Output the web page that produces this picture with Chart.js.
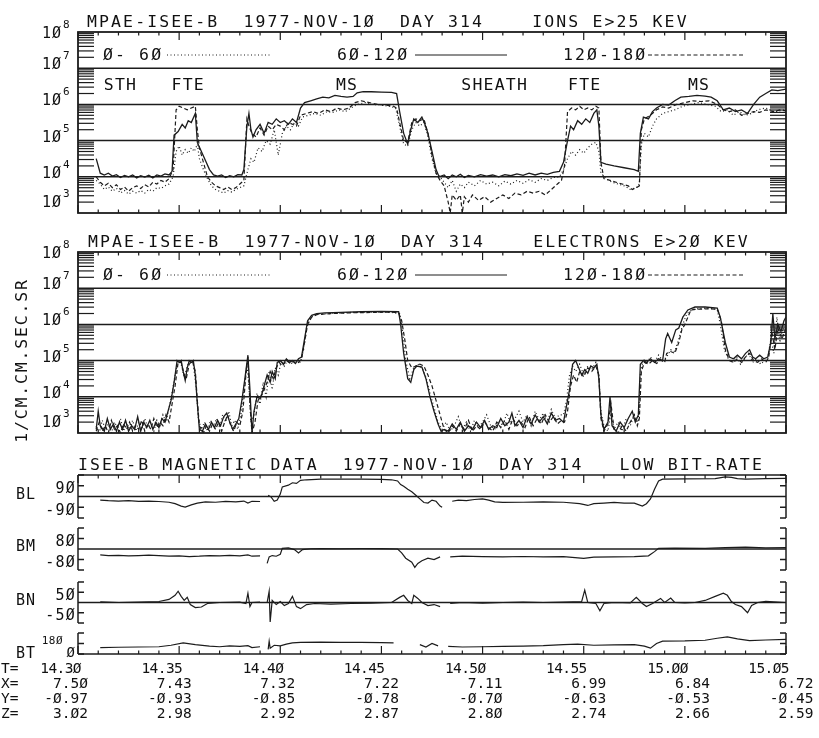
<!DOCTYPE html>
<html>
<head>
<meta charset="utf-8">
<script src="https://cdn.jsdelivr.net/npm/chart.js@4.4.1/dist/chart.umd.min.js"></script>
<style>
  body { margin: 0; background: #fff; }
  #page { position: relative; width: 819px; height: 738px; }
  #page canvas { position: absolute; left: 0; top: 0; }
</style>
</head>
<body>
<div id="page">
  <canvas id="ions" width="819" height="738"></canvas>
  <canvas id="electrons" width="819" height="738"></canvas>
  <canvas id="bl" width="819" height="738"></canvas>
  <canvas id="bm" width="819" height="738"></canvas>
  <canvas id="bn" width="819" height="738"></canvas>
  <canvas id="bt" width="819" height="738"></canvas>
</div>
<script>
// time is minutes after 14:30 UT, particle values are log10(flux)
const angleBins = ["0- 60", "60-120", "120-180"];
const decades = [3, 4, 5, 6, 7, 8];
const majorTimes = [0, 5, 10, 15, 20, 25, 30, 35];
const timeLabels = ["14.30", "14.35", "14.40", "14.45", "14.50", "14.55", "15.00", "15.05"];
const ephX = [7.50, 7.43, 7.32, 7.22, 7.11, 6.99, 6.84, 6.72];
const ephY = [-0.97, -0.93, -0.85, -0.78, -0.70, -0.63, -0.53, -0.45];
const ephZ = [3.02, 2.98, 2.92, 2.87, 2.80, 2.74, 2.66, 2.59];
const regionNames = ["STH", "FTE", "MS", "SHEATH", "FTE", "MS"];
const regionTimes = [2.1, 5.45, 13.3, 20.6, 25.05, 30.7];

const ionsLow = [[0.9,3.9],[1.1,3.8],[1.3,3.65],[1.5,3.72],[1.7,3.6],[1.9,3.68],[2.1,3.55],[2.3,3.62],[2.5,3.52],[2.7,3.6],[2.9,3.55],[3.1,3.62],[3.3,3.55],[3.5,3.65],[3.7,3.6],[3.9,3.7],[4.1,3.68],[4.3,3.75],[4.5,3.8],[4.7,4.0],[4.85,4.7],[5.0,4.85],[5.15,4.6],[5.3,4.75],[5.45,4.65],[5.6,4.8],[5.75,4.7],[5.9,4.9],[6.0,4.5],[6.2,4.2],[6.4,3.95],[6.6,3.75],[6.8,3.65],[7.0,3.6],[7.2,3.55],[7.4,3.62],[7.6,3.58],[7.8,3.65],[8.0,3.7],[8.2,3.75],[8.4,4.2],[8.55,4.5],[8.7,4.4],[8.9,4.8],[9.1,4.7],[9.3,5.0],[9.5,4.9],[9.7,5.3],[9.9,4.6],[10.1,5.2],[10.3,5.4],[10.5,5.3],[10.7,5.5],[10.9,5.4],[11.1,5.65],[11.4,5.7],[11.7,5.75],[12.0,5.7],[12.3,5.8],[12.6,5.78],[12.9,5.85],[13.2,5.8],[13.5,5.9],[13.8,6.0],[14.2,6.05],[14.6,6.0],[15.0,5.98],[15.4,5.95],[15.7,5.9],[15.9,5.4],[16.1,4.9],[16.3,4.85],[16.5,5.3],[16.7,5.5],[16.9,5.4],[17.1,5.5],[17.3,5.1],[17.5,4.5],[17.7,4.1],[17.9,4.0],[18.1,3.85],[18.3,3.7],[18.5,3.9],[18.7,3.6],[18.9,3.8],[19.1,3.7],[19.3,3.85],[19.6,3.75],[19.9,3.9],[20.2,3.8],[20.5,3.85],[20.8,3.75],[21.1,3.88],[21.4,3.8],[21.7,3.9],[22.0,3.82],[22.3,3.92],[22.6,3.85],[22.9,3.95],[23.2,3.9],[23.5,3.98],[23.8,4.0],[24.0,4.2],[24.2,4.5],[24.4,4.7],[24.6,4.6],[24.8,4.75],[25.0,4.65],[25.2,4.8],[25.4,4.9],[25.6,4.95],[25.75,4.7],[25.85,4.1],[26.1,3.95],[26.4,3.85],[26.7,3.8],[27.0,3.75],[27.3,3.65],[27.6,3.7],[27.75,3.8],[27.85,4.9],[28.0,5.2],[28.2,5.1],[28.4,5.4],[28.6,5.6],[28.9,5.75],[29.2,5.8],[29.5,5.85],[29.9,5.95],[30.3,6.0],[30.7,6.05],[31.1,6.0],[31.5,5.95],[31.8,5.8],[32.1,5.85],[32.4,5.7],[32.7,5.8],[33.0,5.7],[33.3,5.75],[33.6,5.85],[34.0,5.9],[34.4,5.8],[35.0,5.85]];

const ionsMid = [[0.9,4.5],[1.1,4.1],[1.3,4.05],[1.5,4.1],[1.7,4.02],[1.9,4.06],[2.1,3.98],[2.3,4.04],[2.5,4.0],[2.7,4.05],[2.9,3.97],[3.1,4.03],[3.3,3.99],[3.5,4.04],[3.7,3.97],[3.9,4.05],[4.1,4.02],[4.3,4.08],[4.5,4.05],[4.65,4.15],[4.75,5.15],[4.95,5.25],[5.15,5.45],[5.3,5.35],[5.45,5.55],[5.6,5.5],[5.8,5.75],[5.9,4.95],[6.1,4.7],[6.3,4.45],[6.5,4.2],[6.7,4.05],[6.9,4.02],[7.1,4.05],[7.3,3.98],[7.5,4.03],[7.7,4.0],[7.9,4.06],[8.1,4.05],[8.2,4.2],[8.35,5.4],[8.45,5.75],[8.55,5.3],[8.65,5.1],[8.8,5.3],[9.0,5.45],[9.2,5.2],[9.4,5.5],[9.6,5.45],[9.8,5.6],[10.0,5.5],[10.2,5.55],[10.4,5.45],[10.6,5.6],[10.8,5.5],[11.0,5.9],[11.2,6.05],[11.5,6.1],[11.8,6.15],[12.1,6.2],[12.4,6.18],[12.7,6.25],[13.0,6.22],[13.3,6.2],[13.6,6.22],[13.8,6.32],[14.1,6.35],[14.5,6.35],[15.0,6.34],[15.5,6.33],[15.75,6.3],[15.9,5.8],[16.1,5.2],[16.3,4.9],[16.45,5.3],[16.6,5.6],[16.8,5.5],[17.0,5.65],[17.15,5.45],[17.3,5.2],[17.5,4.7],[17.7,4.2],[17.85,4.0],[18.1,4.05],[18.3,3.95],[18.5,4.05],[18.7,4.0],[18.9,4.07],[19.1,3.98],[19.3,4.04],[19.6,4.0],[19.9,4.06],[20.2,4.02],[20.5,4.05],[20.8,4.0],[21.1,4.06],[21.4,4.03],[21.7,4.08],[22.0,4.04],[22.3,4.1],[22.6,4.05],[22.9,4.1],[23.2,4.07],[23.5,4.12],[23.8,4.15],[24.0,4.4],[24.2,5.0],[24.35,5.4],[24.5,5.3],[24.7,5.55],[24.9,5.45],[25.1,5.6],[25.3,5.5],[25.5,5.75],[25.65,5.85],[25.75,5.4],[25.85,4.4],[26.1,4.35],[26.5,4.3],[27.0,4.25],[27.5,4.2],[27.7,4.15],[27.8,5.2],[27.95,5.65],[28.2,5.6],[28.4,5.8],[28.6,5.9],[28.9,6.0],[29.2,5.98],[29.5,6.1],[29.8,6.2],[30.2,6.22],[30.6,6.25],[31.0,6.23],[31.3,6.2],[31.6,6.1],[31.9,5.85],[32.2,5.9],[32.5,5.8],[32.8,5.85],[33.1,5.75],[33.4,6.0],[33.7,6.2],[34.0,6.3],[34.3,6.4],[34.6,6.38],[35.0,6.42]];

const ionsHigh = [[0.9,4.0],[1.1,3.85],[1.3,3.75],[1.5,3.82],[1.7,3.7],[1.9,3.78],[2.1,3.65],[2.3,3.72],[2.5,3.6],[2.7,3.7],[2.9,3.75],[3.1,3.68],[3.3,3.78],[3.5,3.72],[3.7,3.85],[3.9,3.8],[4.1,3.9],[4.3,3.85],[4.5,3.95],[4.7,4.2],[4.85,5.85],[5.0,5.95],[5.2,5.9],[5.4,5.85],[5.6,5.9],[5.8,5.95],[5.9,5.3],[6.0,4.8],[6.2,4.4],[6.4,4.0],[6.6,3.85],[6.8,3.75],[7.0,3.7],[7.2,3.65],[7.4,3.72],[7.6,3.65],[7.8,3.7],[8.0,3.8],[8.2,3.9],[8.35,5.6],[8.45,5.4],[8.6,5.2],[8.8,5.1],[9.0,5.35],[9.2,5.15],[9.4,5.4],[9.6,5.3],[9.8,5.45],[10.0,5.4],[10.2,5.3],[10.4,5.5],[10.6,5.45],[10.8,5.4],[11.0,5.7],[11.3,5.75],[11.6,5.8],[11.9,5.75],[12.2,5.85],[12.5,5.8],[12.8,5.9],[13.1,5.85],[13.4,5.9],[13.7,6.05],[14.0,6.1],[14.4,6.05],[14.8,6.0],[15.2,5.98],[15.6,5.95],[15.75,5.9],[15.9,5.5],[16.1,5.0],[16.3,4.95],[16.5,5.5],[16.7,5.6],[16.9,5.55],[17.1,5.6],[17.3,5.2],[17.5,4.6],[17.7,4.1],[17.9,3.9],[18.1,3.75],[18.3,3.3],[18.4,3.0],[18.5,3.5],[18.7,3.35],[18.9,3.5],[19.0,3.0],[19.1,3.45],[19.3,3.3],[19.5,3.5],[19.8,3.35],[20.1,3.45],[20.4,3.3],[20.7,3.4],[21.0,3.5],[21.3,3.4],[21.6,3.55],[21.9,3.5],[22.2,3.6],[22.5,3.55],[22.8,3.6],[23.1,3.5],[23.4,3.65],[23.7,3.8],[23.9,3.9],[24.05,4.3],[24.2,5.8],[24.4,5.9],[24.6,5.85],[24.8,5.95],[25.0,5.85],[25.2,5.9],[25.4,5.85],[25.6,5.95],[25.75,5.9],[25.85,4.4],[26.0,3.95],[26.3,3.9],[26.6,3.85],[26.9,3.8],[27.2,3.75],[27.4,3.65],[27.6,3.7],[27.75,3.75],[27.85,5.3],[28.0,5.6],[28.3,5.7],[28.6,5.85],[28.9,5.93],[29.2,5.9],[29.6,6.0],[30.0,6.05],[30.4,6.1],[30.8,6.08],[31.2,6.1],[31.6,6.0],[31.9,5.85],[32.2,5.8],[32.5,5.85],[32.8,5.7],[33.1,5.75],[33.4,5.8],[33.7,5.78],[34.0,5.85],[34.4,5.8],[34.7,5.85],[35.0,5.82]];

const elecLow = [[0.9,3.2],[1.05,3.0],[1.2,3.35],[1.35,3.1],[1.5,3.25],[1.65,3.0],[1.8,3.3],[1.95,3.15],[2.1,3.4],[2.25,3.05],[2.4,3.25],[2.55,3.1],[2.7,3.35],[2.85,3.05],[3.0,3.3],[3.15,3.1],[3.3,3.4],[3.45,3.15],[3.6,3.3],[3.75,3.05],[3.9,3.35],[4.05,3.2],[4.2,3.5],[4.35,3.3],[4.5,3.7],[4.65,4.1],[4.8,4.6],[4.95,5.0],[5.1,4.9],[5.25,4.55],[5.4,4.85],[5.55,5.0],[5.7,4.9],[5.85,4.2],[5.95,3.4],[6.1,3.1],[6.25,3.3],[6.4,3.05],[6.55,3.35],[6.7,3.2],[6.85,3.4],[7.0,3.15],[7.15,3.5],[7.3,3.3],[7.45,3.6],[7.6,3.2],[7.75,3.35],[7.9,3.1],[8.05,3.5],[8.2,4.2],[8.35,4.9],[8.45,4.3],[8.55,3.3],[8.7,3.5],[8.85,4.1],[9.0,3.8],[9.15,4.4],[9.3,4.0],[9.45,4.7],[9.6,4.2],[9.75,4.8],[9.9,4.6],[10.05,5.0],[10.2,4.85],[10.4,5.05],[10.6,4.9],[10.8,5.0],[11.0,4.95],[11.15,5.3],[11.3,5.9],[11.5,6.2],[11.8,6.28],[12.5,6.3],[13.5,6.33],[14.5,6.34],[15.5,6.33],[15.9,6.3],[16.05,5.8],[16.2,5.0],[16.4,4.5],[16.6,4.8],[16.8,4.9],[17.0,4.8],[17.2,4.55],[17.4,4.1],[17.6,3.7],[17.8,3.3],[18.0,3.1],[18.2,3.3],[18.4,3.05],[18.6,3.2],[18.8,3.45],[19.0,3.1],[19.2,3.3],[19.4,3.05],[19.6,3.35],[19.8,3.15],[20.0,3.3],[20.2,3.5],[20.4,3.2],[20.6,3.1],[20.8,3.35],[21.0,3.2],[21.2,3.55],[21.4,3.25],[21.6,3.4],[21.8,3.6],[22.0,3.3],[22.2,3.5],[22.4,3.2],[22.6,3.6],[22.8,3.35],[23.0,3.55],[23.2,3.3],[23.4,3.65],[23.6,3.4],[23.8,3.5],[24.0,3.5],[24.15,3.9],[24.3,4.6],[24.45,4.85],[24.6,4.7],[24.8,4.9],[25.0,4.6],[25.2,4.85],[25.4,4.75],[25.6,4.95],[25.75,4.6],[25.85,3.6],[26.0,3.2],[26.2,3.05],[26.35,3.6],[26.5,3.1],[26.7,3.3],[26.9,3.05],[27.1,3.4],[27.3,3.2],[27.5,3.5],[27.7,3.3],[27.8,4.6],[27.95,5.05],[28.1,4.9],[28.3,5.1],[28.5,4.95],[28.7,5.15],[28.9,5.0],[29.1,5.1],[29.3,5.3],[29.5,5.25],[29.7,5.6],[29.9,6.0],[30.1,6.3],[30.4,6.42],[31.0,6.45],[31.6,6.42],[31.75,6.0],[31.95,5.3],[32.15,5.05],[32.35,4.95],[32.55,5.1],[32.75,4.9],[32.95,5.05],[33.15,5.2],[33.35,4.95],[33.55,5.05],[33.75,4.9],[33.95,5.0],[34.1,5.05],[34.25,5.6],[34.4,5.2],[34.55,6.2],[34.7,5.5],[34.85,5.9],[35.0,5.7]];

const elecMid = [[0.9,3.1],[1.0,3.6],[1.1,3.2],[1.3,3.05],[1.45,3.4],[1.6,3.1],[1.75,3.25],[1.9,3.05],[2.05,3.3],[2.2,3.1],[2.35,3.35],[2.5,3.05],[2.65,3.2],[2.8,3.1],[2.95,3.45],[3.1,3.05],[3.25,3.3],[3.4,3.15],[3.55,3.35],[3.7,3.1],[3.85,3.3],[4.0,3.15],[4.15,3.4],[4.3,3.3],[4.45,3.6],[4.6,3.9],[4.75,4.4],[4.9,5.0],[5.0,4.95],[5.1,5.0],[5.2,4.7],[5.3,4.45],[5.4,4.8],[5.5,5.0],[5.6,4.95],[5.7,5.0],[5.8,4.6],[5.9,3.8],[6.0,3.1],[6.15,3.05],[6.3,3.25],[6.45,3.1],[6.6,3.3],[6.75,3.15],[6.9,3.35],[7.05,3.2],[7.2,3.45],[7.35,3.55],[7.5,3.3],[7.65,3.1],[7.8,3.25],[7.95,3.4],[8.1,3.9],[8.25,4.5],[8.4,5.15],[8.5,4.2],[8.6,3.0],[8.7,3.6],[8.85,4.0],[9.0,3.95],[9.1,4.1],[9.2,4.3],[9.35,4.6],[9.5,4.4],[9.6,4.7],[9.75,4.5],[9.85,4.95],[10.0,5.0],[10.15,4.9],[10.3,5.05],[10.45,4.95],[10.6,5.0],[10.75,4.92],[10.9,5.05],[11.05,5.1],[11.2,5.6],[11.35,6.1],[11.55,6.25],[11.8,6.3],[12.2,6.32],[13.0,6.33],[14.0,6.35],[15.0,6.36],[15.85,6.35],[15.95,6.0],[16.1,5.2],[16.3,4.5],[16.45,4.4],[16.6,4.75],[16.75,4.85],[17.0,4.82],[17.2,4.5],[17.4,4.0],[17.6,3.6],[17.8,3.25],[17.95,3.05],[18.1,3.1],[18.3,3.05],[18.5,3.25],[18.7,3.1],[18.9,3.3],[19.1,3.05],[19.3,3.2],[19.5,3.1],[19.7,3.3],[19.9,3.15],[20.1,3.35],[20.3,3.1],[20.5,3.2],[20.7,3.15],[20.9,3.4],[21.1,3.2],[21.3,3.3],[21.45,3.55],[21.6,3.2],[21.8,3.35],[22.0,3.15],[22.2,3.45],[22.4,3.25],[22.6,3.5],[22.8,3.3],[23.0,3.45],[23.2,3.25],[23.4,3.55],[23.6,3.35],[23.8,3.4],[24.0,3.3],[24.1,3.6],[24.3,4.2],[24.45,4.9],[24.6,5.0],[24.75,4.8],[24.9,4.6],[25.05,4.75],[25.2,4.65],[25.35,4.85],[25.5,4.8],[25.65,4.9],[25.75,4.5],[25.85,3.5],[26.0,3.1],[26.2,3.3],[26.3,4.0],[26.4,3.2],[26.6,3.05],[26.8,3.3],[27.0,3.15],[27.2,3.4],[27.4,3.6],[27.55,3.3],[27.7,3.5],[27.8,4.9],[27.95,5.0],[28.1,4.95],[28.3,5.05],[28.5,4.95],[28.7,5.05],[28.9,5.0],[29.05,5.6],[29.15,5.75],[29.35,5.5],[29.55,5.85],[29.7,5.9],[29.9,6.2],[30.15,6.4],[30.5,6.48],[31.0,6.48],[31.6,6.45],[31.75,6.2],[32.0,5.5],[32.2,5.1],[32.4,5.05],[32.6,5.15],[32.8,5.05],[33.0,5.2],[33.2,5.3],[33.35,5.1],[33.5,5.05],[33.7,5.15],[33.9,5.05],[34.1,5.1],[34.25,5.5],[34.35,6.3],[34.45,5.6],[34.6,6.0],[34.75,5.8],[34.9,6.1],[35.0,6.2]];

const elecHigh = [[0.9,3.05],[1.05,3.3],[1.2,3.05],[1.35,3.2],[1.5,3.0],[1.65,3.35],[1.8,3.1],[1.95,3.2],[2.1,3.0],[2.25,3.25],[2.4,3.1],[2.55,3.3],[2.7,3.05],[2.85,3.2],[3.0,3.1],[3.15,3.35],[3.3,3.05],[3.45,3.25],[3.6,3.1],[3.75,3.4],[3.9,3.15],[4.05,3.3],[4.2,3.2],[4.35,3.5],[4.5,3.3],[4.65,3.8],[4.8,4.3],[4.95,4.95],[5.1,4.95],[5.25,4.6],[5.35,4.5],[5.5,4.9],[5.65,5.0],[5.8,4.7],[5.9,3.9],[6.0,3.2],[6.2,3.0],[6.35,3.2],[6.5,3.05],[6.65,3.25],[6.8,3.1],[6.95,3.3],[7.1,3.05],[7.25,3.3],[7.4,3.5],[7.55,3.2],[7.7,3.05],[7.85,3.3],[8.0,3.2],[8.15,3.6],[8.3,4.6],[8.4,5.1],[8.5,3.8],[8.6,3.0],[8.75,3.3],[8.9,3.9],[9.05,4.0],[9.2,4.2],[9.35,4.4],[9.5,4.7],[9.65,4.5],[9.8,4.8],[9.95,4.95],[10.1,4.85],[10.3,5.0],[10.5,4.92],[10.7,5.0],[10.9,4.95],[11.05,5.05],[11.2,5.5],[11.35,6.0],[11.55,6.2],[11.8,6.27],[12.5,6.3],[13.5,6.32],[14.5,6.33],[15.5,6.34],[15.85,6.32],[16.0,6.1],[16.15,5.6],[16.3,5.0],[16.5,4.8],[16.7,4.85],[16.9,4.9],[17.1,4.85],[17.3,4.6],[17.5,4.3],[17.7,3.9],[17.9,3.5],[18.1,3.1],[18.3,3.0],[18.5,3.2],[18.7,3.05],[18.9,3.25],[19.1,3.1],[19.3,3.35],[19.5,3.05],[19.7,3.2],[19.9,3.1],[20.1,3.3],[20.3,3.15],[20.5,3.05],[20.7,3.3],[20.9,3.15],[21.1,3.35],[21.3,3.1],[21.5,3.4],[21.7,3.2],[21.9,3.3],[22.1,3.15],[22.3,3.45],[22.5,3.2],[22.7,3.4],[22.9,3.25],[23.1,3.5],[23.3,3.3],[23.5,3.45],[23.7,3.25],[23.9,3.35],[24.05,3.3],[24.2,3.6],[24.35,4.3],[24.5,4.6],[24.65,4.4],[24.8,4.7],[25.0,4.55],[25.2,4.8],[25.4,4.7],[25.6,4.85],[25.75,4.6],[25.85,3.4],[26.0,3.05],[26.2,3.25],[26.35,3.8],[26.5,3.1],[26.7,3.0],[26.9,3.2],[27.1,3.05],[27.3,3.3],[27.5,3.5],[27.65,3.2],[27.75,3.4],[27.85,4.7],[28.0,4.95],[28.2,4.9],[28.4,5.0],[28.6,4.92],[28.8,5.02],[29.0,4.95],[29.1,5.2],[29.3,5.25],[29.5,5.2],[29.7,5.5],[29.85,5.85],[30.0,6.0],[30.3,6.4],[30.6,6.42],[31.2,6.43],[31.6,6.42],[31.8,6.1],[32.0,5.3],[32.2,5.0],[32.4,4.95],[32.6,5.05],[32.8,4.95],[33.0,5.1],[33.2,5.2],[33.4,5.0],[33.6,4.95],[33.8,5.05],[34.0,4.95],[34.15,5.1],[34.3,5.8],[34.45,5.3],[34.6,5.9],[34.8,5.6],[35.0,5.9]];

// magnetic field components, nT (null = data gap)
const bL = [[1.1,-30],[1.5,-35],[2.0,-38],[2.5,-35],[3.0,-40],[3.5,-38],[4.0,-42],[4.5,-48],[4.8,-60],[5.1,-80],[5.3,-88],[5.6,-70],[5.9,-55],[6.3,-45],[6.8,-48],[7.3,-40],[7.8,-45],[8.2,-38],[8.4,-55],[8.6,-40],[9.0,-42],[9.2,null],[9.4,10],[9.55,-5],[9.7,-40],[9.85,-30],[10.0,20],[10.1,80],[10.4,95],[10.6,115],[10.8,110],[11.0,135],[11.3,140],[12,145],[13,146],[14,145],[15,143],[15.5,140],[15.8,130],[15.95,100],[16.1,85],[16.3,60],[16.5,40],[16.7,10],[16.9,-20],[17.1,-50],[17.3,-55],[17.5,-30],[17.7,-40],[17.9,-80],[18.0,-90],[18.1,null],[18.5,-40],[18.8,-30],[19.2,-35],[19.6,-25],[20.0,-20],[20.3,-30],[20.6,-45],[21.0,-50],[22,-48],[23,-45],[24,-48],[24.8,-60],[25.2,-75],[25.5,-60],[26,-55],[26.5,-50],[27,-55],[27.5,-55],[27.9,-80],[28.1,-60],[28.3,-20],[28.5,60],[28.7,130],[28.9,145],[30,148],[31.5,150],[32.0,165],[32.3,160],[32.6,150],[33.0,145],[34,150],[35,152]];
const bM = [[1.1,-45],[1.5,-50],[2,-48],[2.5,-52],[3,-50],[3.5,-47],[4,-50],[4.5,-55],[5,-52],[5.5,-58],[6,-55],[6.5,-50],[7,-52],[7.5,-48],[8,-52],[8.4,-45],[8.6,-55],[9.0,-52],[9.2,null],[9.35,-110],[9.45,-60],[9.6,-50],[9.8,-55],[10.0,-40],[10.1,5],[10.4,8],[10.7,-5],[10.9,-30],[11.1,-5],[11.5,2],[12,3],[13,2],[14,4],[15,3],[15.8,0],[16.0,-30],[16.2,-70],[16.5,-100],[16.65,-140],[16.8,-110],[17.0,-90],[17.3,-70],[17.6,-80],[17.9,-60],[18.1,null],[18.4,-60],[19,-55],[20,-58],[21,-60],[22,-57],[23,-60],[24,-58],[25,-72],[25.5,-62],[26.5,-60],[27.5,-58],[28.2,-52],[28.5,-20],[28.7,5],[29.5,7],[31,5],[32,10],[33,15],[34,8],[35,10]];
const bN = [[1.1,3],[2,0],[3,2],[4,5],[4.5,15],[4.8,35],[4.95,55],[5.1,30],[5.25,10],[5.4,25],[5.55,-10],[5.8,-25],[6.1,-22],[6.4,-5],[7,0],[8,2],[8.3,-5],[8.4,45],[8.5,-20],[8.6,0],[9.0,2],[9.2,null],[9.35,0],[9.45,55],[9.5,-95],[9.6,10],[9.8,-10],[10.0,5],[10.2,-15],[10.4,-5],[10.6,30],[10.8,-20],[11.0,-30],[11.3,-10],[11.7,-5],[12.5,-8],[13.5,-5],[14.5,-3],[15.5,0],[15.9,25],[16.1,35],[16.3,10],[16.5,-5],[16.6,35],[16.8,20],[17.0,0],[17.3,-15],[17.6,-10],[17.9,-20],[18.1,null],[18.4,-5],[19,0],[20,-3],[21,0],[22,2],[23,0],[24,2],[24.9,5],[25.05,60],[25.2,0],[25.6,-5],[25.8,-40],[26.0,-5],[26.5,0],[27.3,-2],[27.6,25],[27.9,-5],[28.1,-20],[28.4,-5],[28.8,20],[29.0,0],[29.3,22],[29.5,0],[30.0,-2],[30.5,0],[31.0,10],[31.5,30],[31.9,45],[32.1,35],[32.3,5],[32.5,-10],[32.8,-20],[33.1,-50],[33.3,-15],[33.6,0],[34,5],[35,0]];
const bT = [[1.1,55],[2,58],[3,60],[4,62],[4.6,75],[5.2,95],[5.8,80],[6.5,68],[7,62],[7.5,70],[8,65],[8.4,72],[8.6,55],[9.0,62],[9.2,null],[9.4,40],[9.45,110],[9.5,50],[9.7,75],[10.0,70],[10.3,85],[10.6,95],[11,100],[12,102],[13,100],[14,100],[15,98],[15.6,96],[15.8,null],[16.4,125],[16.6,null],[16.9,80],[17.2,60],[17.5,90],[17.8,70],[18.1,null],[18.3,65],[19,60],[20,62],[21,65],[22,68],[23,72],[24,80],[24.7,85],[25.5,75],[26.5,78],[27.5,80],[28.0,68],[28.3,50],[28.6,90],[28.9,110],[30,112],[31,118],[31.6,135],[32.1,146],[32.6,130],[33.2,115],[34,120],[35,125]];

const ink = "#1c1c1c";
const monoFont = '"DejaVu Sans Mono", "Liberation Mono", monospace';
const slash = (s) => s.replace(/0/g, "\u00d8");
const toLog = (pairs) => pairs.map(([t, e]) => ({ x: t, y: e === null ? null : Math.pow(10, e) }));
const toPts = (pairs) => pairs.map(([t, v]) => ({ x: t, y: v }));

const frame = {
  id: "frame",
  afterDatasetsDraw(chart, args, o) {
    const { ctx, chartArea: a } = chart;
    const xs = chart.scales.x, ys = chart.scales.y;
    const L = a.left, R = a.right, T = a.top, B = a.bottom;
    ctx.save();
    ctx.strokeStyle = ink;
    ctx.fillStyle = "#111";
    ctx.setLineDash([]);

    const seg = (x1, y1, x2, y2, w) => {
      ctx.lineWidth = w;
      ctx.beginPath();
      ctx.moveTo(x1, y1);
      ctx.lineTo(x2, y2);
      ctx.stroke();
    };
    const put = (s, px, py, size, align, sp) => {
      ctx.font = size + "px " + monoFont;
      ctx.textAlign = align || "left";
      ctx.textBaseline = "alphabetic";
      ctx.letterSpacing = (sp || 0) + "px";
      ctx.fillText(s, px, py);
      ctx.letterSpacing = "0px";
    };
    const timeTicks = (py, dir) => {
      for (let m = xs.min; m <= xs.max; m++) {
        const px = xs.getPixelForValue(m);
        seg(px, py, px, py + dir * (m % 5 ? 3.5 : 8), 1.2);
      }
    };

    if (o.log) {
      ctx.lineWidth = 1.8;
      ctx.strokeRect(L, T, R - L, B - T);
      decades.forEach((e) => {
        const py = ys.getPixelForValue(Math.pow(10, e));
        if (e > 3 && e < 8) seg(L, py, R, py, 1.5);
        const base = py + (e === 8 ? 6 : e === 3 ? -6 : 1);
        put(slash("10"), 62, base, 15, "right", 1);
        put(String(e), 63, base - 10, 11, "left");
        if (e < 8) {
          for (let m = 2; m < 10; m++) {
            const pm = ys.getPixelForValue(m * Math.pow(10, e));
            seg(L, pm, L + 16, pm, 1.2);
            seg(R - 16, pm, R, pm, 1.2);
          }
        }
      });
      timeTicks(T, 1);
      timeTicks(B, -1);
    } else {
      seg(L, T, L, B, 1.5);
      seg(R, T, R, B, 1.5);
      [ys.min, ys.max].concat(o.ticks).forEach((v) => {
        const py = ys.getPixelForValue(v);
        seg(L, py, L + 6, py, 1.5);
        seg(R - 6, py, R, py, 1.5);
      });
      const p0 = ys.getPixelForValue(0);
      if (o.zero) seg(L, p0, R, p0, 1.5);
      if (o.topAxis) { seg(L, T, R, T, 1.5); timeTicks(T, 1); }
      if (o.bottomAxis) { seg(L, B, R, B, 1.5); timeTicks(B, -1); }
      put(o.name, 16, o.bottomAxis ? B + 4 : p0 + 2, 15, "left", 1);
      if (o.bottomAxis) {
        put(slash(String(ys.max)), 63, ys.getPixelForValue(ys.max) + 11, 11, "right", 0.5);
        put(slash("0"), 75, B + 3, 14, "right");
      } else {
        o.labels.forEach((v) => {
          put(slash(String(v)), 76, ys.getPixelForValue(v) + 7.5, 15, "right", 1.2);
        });
      }
    }

    if (o.title) put(slash(o.title), o.titleX, T - 5, 16.5, "left", 2.1);

    if (o.legend) {
      const textX = [103, 337, 563], lineX = [[167, 272], [415, 507], [648, 743]];
      chart.data.datasets.forEach((ds, i) => {
        put(slash(ds.label), textX[i], T + 28, 16.5, "left", 2.1);
        ctx.setLineDash(ds.borderDash || []);
        seg(lineX[i][0], T + 23, lineX[i][1], T + 23, 1);
        ctx.setLineDash([]);
      });
    }

    if (o.regions) {
      regionNames.forEach((n, i) => put(n, xs.getPixelForValue(regionTimes[i]), T + 58, 16.5, "center", 1.2));
    }

    if (o.yTitle) {
      ctx.save();
      ctx.translate(27, (T + B) / 2 + 18);
      ctx.rotate(-Math.PI / 2);
      put(o.yTitle, 0, 0, 16.5, "center", 1.8);
      ctx.restore();
    }

    if (o.table) {
      const rows = [["T=", timeLabels], ["X=", ephX], ["Y=", ephY], ["Z=", ephZ]];
      rows.forEach(([head, vals], r) => {
        const py = B + 18.5 + r * 15.3;
        put(head, 1, py, 14.5, "left", 0);
        vals.forEach((v, k) => {
          const px = xs.getPixelForValue(majorTimes[k]);
          if (r === 0) put(slash(v), px + 3, py, 14.5, "right", -0.6);
          else put(slash(v.toFixed(2)), px + 10 + 2.5 * k, py, 14.5, "right", 0);
        });
      });
    }
    ctx.restore();
  },
};

function panel(id, top, bottom, yOpts, datasets, frameOpts) {
  return new Chart(document.getElementById(id), {
    type: "line",
    data: { datasets },
    options: {
      responsive: false,
      animation: false,
      devicePixelRatio: 1,
      layout: { padding: { left: 78, right: 33, top: top, bottom: 738 - bottom } },
      scales: {
        x: { type: "linear", min: 0, max: 35, display: false },
        y: Object.assign({ display: false }, yOpts),
      },
      elements: {
        point: { radius: 0 },
        line: { tension: 0, borderWidth: 1.2, borderColor: ink },
      },
      plugins: { legend: { display: false }, tooltip: { enabled: false }, frame: frameOpts },
    },
    plugins: [frame],
  });
}

const logAxis = { type: "logarithmic", min: 1e3, max: 1e8 };
const particleSets = (low, mid, high) => [
  { label: angleBins[0], data: toLog(low), borderDash: [1, 2.5], borderWidth: 1.2 },
  { label: angleBins[1], data: toLog(mid), borderWidth: 1.3 },
  { label: angleBins[2], data: toLog(high), borderDash: [4, 2.5], borderWidth: 1.2 },
];

panel("ions", 32, 213, logAxis, particleSets(ionsLow, ionsMid, ionsHigh), {
  log: true, legend: true, regions: true, titleX: 87,
  title: "MPAE-ISEE-B  1977-NOV-10  DAY 314    IONS E>25 KEV",
});
panel("electrons", 252, 433, logAxis, particleSets(elecLow, elecMid, elecHigh), {
  log: true, legend: true, titleX: 88, yTitle: "1/CM.CM.SEC.SR",
  title: "MPAE-ISEE-B  1977-NOV-10  DAY 314    ELECTRONS E>20 KEV",
});
panel("bl", 475, 518, { type: "linear", min: -180, max: 180 }, [{ label: "BL", data: toPts(bL) }], {
  name: "BL", ticks: [-90, 90], labels: [90, -90], zero: true, topAxis: true, titleX: 78,
  title: "ISEE-B MAGNETIC DATA  1977-NOV-10  DAY 314   LOW BIT-RATE",
});
panel("bm", 528, 570, { type: "linear", min: -160, max: 160 }, [{ label: "BM", data: toPts(bM) }], {
  name: "BM", ticks: [-80, 80], labels: [80, -80], zero: true,
});
panel("bn", 582, 623, { type: "linear", min: -100, max: 100 }, [{ label: "BN", data: toPts(bN) }], {
  name: "BN", ticks: [-50, 50], labels: [50, -50], zero: true,
});
panel("bt", 633, 654, { type: "linear", min: 0, max: 180 }, [{ label: "BT", data: toPts(bT) }], {
  name: "BT", ticks: [90], labels: [], bottomAxis: true, table: true,
});
</script>
</body>
</html>
